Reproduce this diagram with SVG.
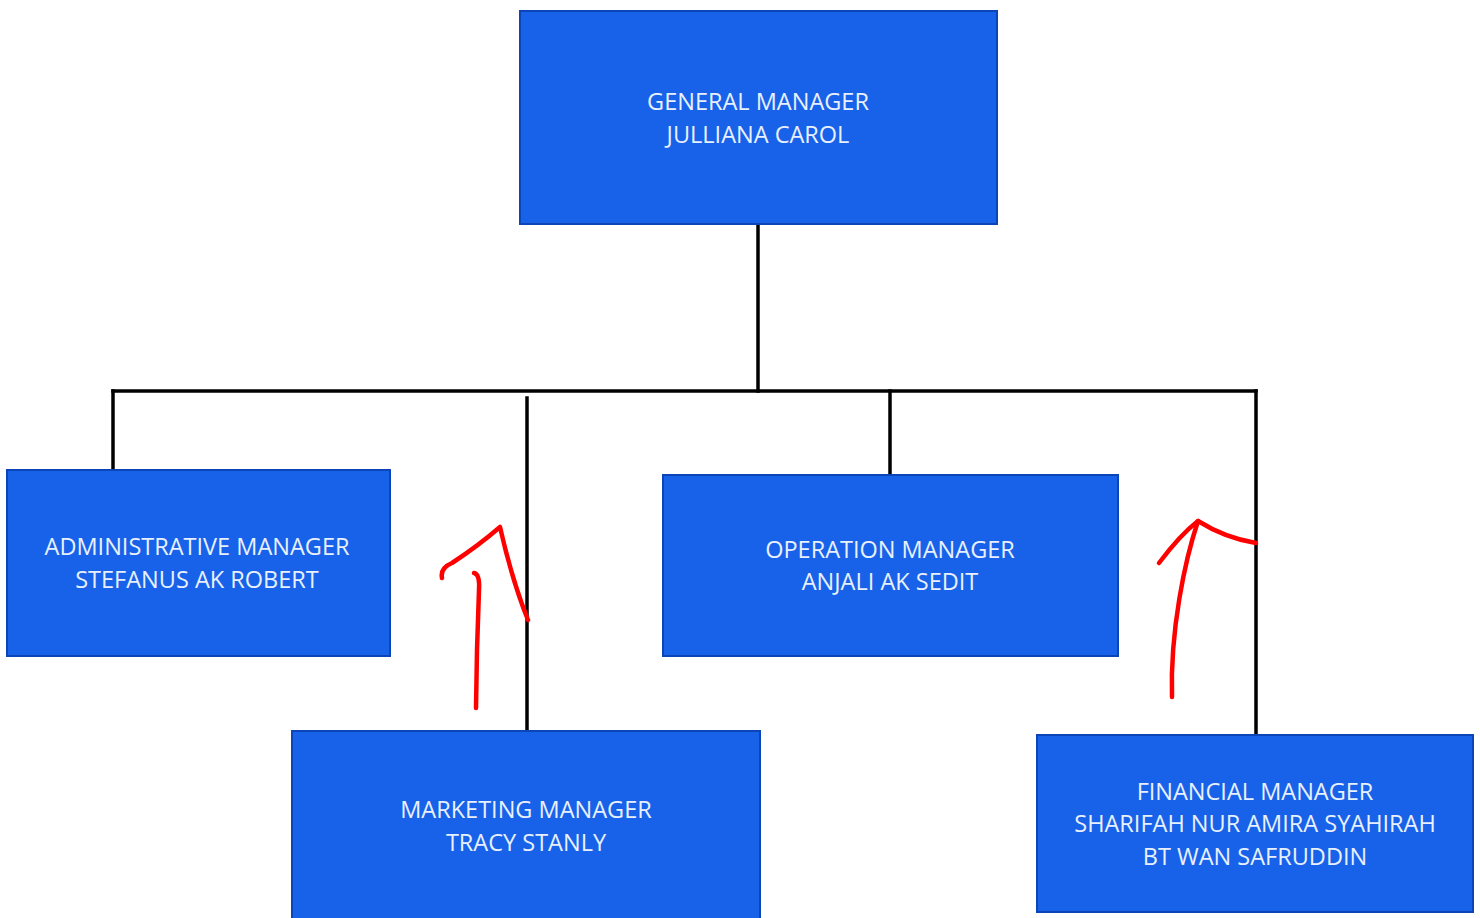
<svg xmlns="http://www.w3.org/2000/svg" width="1480" height="918" viewBox="0 0 1480 918">
<style>
.box{fill:#1762e8;stroke:#0b45b8;stroke-width:2}
.lbl{font-family:"Open Sans","Liberation Sans",sans-serif;font-size:23.5px;fill:#e8f0ff;text-anchor:middle}
.conn{stroke:#000;stroke-width:3.5;fill:none;stroke-linecap:square}
.red{stroke:#f00;stroke-width:4.5;fill:none;stroke-linecap:round;stroke-linejoin:round}
</style>
<rect width="1480" height="918" fill="#fff"/>
<g id="connectors">
<path class="conn" d="M758,224 V391"/>
<path class="conn" d="M113,391 H1256"/>
<path class="conn" d="M113,391 V470"/>
<path class="conn" d="M527,398 V731"/>
<path class="conn" d="M890,391 V475"/>
<path class="conn" d="M1256,391 V735"/>
</g>
<g id="node-gm">
<rect class="box" x="520" y="11" width="477" height="213"/>
<text class="lbl" x="758" y="110">GENERAL MANAGER</text>
<text class="lbl" x="758" y="143">JULLIANA CAROL</text>
</g>
<g id="node-admin">
<rect class="box" x="7" y="470" width="383" height="186"/>
<text class="lbl" x="197" y="555">ADMINISTRATIVE MANAGER</text>
<text class="lbl" x="197" y="588">STEFANUS AK ROBERT</text>
</g>
<g id="node-operation">
<rect class="box" x="663" y="475" width="455" height="181"/>
<text class="lbl" x="890" y="558">OPERATION MANAGER</text>
<text class="lbl" x="890" y="590">ANJALI AK SEDIT</text>
</g>
<g id="node-marketing">
<rect class="box" x="292" y="731" width="468" height="200"/>
<text class="lbl" x="526" y="818">MARKETING MANAGER</text>
<text class="lbl" x="526" y="851">TRACY STANLY</text>
</g>
<g id="node-financial">
<rect class="box" x="1037" y="735" width="436" height="177"/>
<text class="lbl" x="1255" y="800">FINANCIAL MANAGER</text>
<text class="lbl" x="1255" y="832">SHARIFAH NUR AMIRA SYAHIRAH</text>
<text class="lbl" x="1255" y="865">BT WAN SAFRUDDIN</text>
</g>
<g id="annotations">
<path class="red" d="M474,573 Q480,574 479,590 L477,650 L476,708"/>
<path class="red" d="M442,578 Q440,568 452,563 Q478,546 500,527 Q512,580 528,620"/>
<path class="red" d="M1172,697 C1170,630 1185,560 1198,521"/>
<path class="red" d="M1159,563 Q1180,535 1198,521 Q1225,538 1256,543"/>
</g>
</svg>
